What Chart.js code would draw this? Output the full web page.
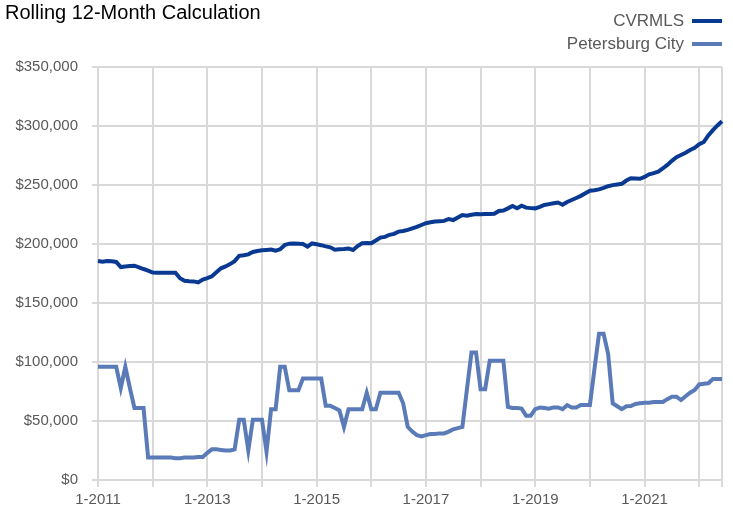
<!DOCTYPE html>
<html>
<head>
<meta charset="utf-8">
<script src="https://cdn.jsdelivr.net/npm/chart.js@4.4.1/dist/chart.umd.min.js"></script>
<style>
  body { margin: 0; background: #fff; }
  #wrap { width: 733px; height: 515px; position: relative; }
</style>
</head>
<body>
<div id="wrap"><canvas id="rolling"></canvas></div>
<script>
var FONT = '"Liberation Sans Narrow", "Arial Narrow", "Liberation Sans", sans-serif';

var chartTitle = 'Rolling 12-Month Calculation';
var seriesNames = ['CVRMLS', 'Petersburg City'];
var seriesColors = ['#0a3991', '#5a7bb8'];

// months 1-2011 .. 6-2022
var startYear = 2011;
var monthCount = 138;
var months = [];
for (var i = 0; i < monthCount; i++) {
  months.push((i % 12 + 1) + '-' + (startYear + Math.floor(i / 12)));
}

var yTicks = [0, 50000, 100000, 150000, 200000, 250000, 300000, 350000];

var cvrmls = [
  185600, 185000, 185500, 185400, 184800, 180500, 181000, 181300, 181600, 180200, 178800, 177500,
  175800, 175600, 175700, 175700, 175700, 175600, 171000, 168900, 168500, 168300, 167500, 169800,
  171000, 172600, 176000, 179400, 181000, 183000, 185500, 190000, 190500, 191200, 193200, 194000,
  194700, 195000, 195300, 194400, 195500, 199200, 200300, 200400, 200200, 200000, 197700, 200500,
  199800, 199000, 198000, 197200, 195200, 195500, 195800, 196200, 195000, 198300, 200600, 200800,
  200700, 203000, 205400, 206000, 207800, 208600, 210500, 211000, 212000, 213300, 214500, 216100,
  217600, 218400, 219000, 219300, 219600, 221200, 220300, 222500, 224600, 223900, 224800, 225400,
  225300, 225500, 225400, 225600, 228000, 228400, 230200, 232200, 230300, 232500, 230800, 230400,
  230200, 231500, 233100, 233800, 234500, 235200, 233300, 235600, 237300, 239000, 240800, 243000,
  245200, 245600, 246300, 247500, 249000, 249900, 250500, 251000, 253800, 255700, 255600, 255300,
  256800, 259000, 260000, 261300, 264000, 267000, 270500, 273500, 275400, 277400, 279600, 281500,
  284500, 286500, 292000, 296500, 300500, 304000
];

var petersburg = [
  96000, 96000, 96000, 96000, 96000, 78000, 96000, 78000, 61000, 61000, 61000, 19000,
  19000, 19000, 19000, 19000, 19000, 18500, 18500, 19000, 19000, 19000, 19500, 19500,
  23000, 26000, 26000, 25500, 25000, 25000, 26000, 51000, 51000, 25000, 51000, 51000,
  51000, 24000, 60000, 60000, 96000, 96000, 76000, 76000, 76000, 86000, 86000, 86000,
  86000, 86000, 63000, 63000, 61000, 59000, 45000, 60000, 60000, 60000, 60000, 74000,
  60000, 60000, 74000, 74000, 74000, 74000, 74000, 65000, 45000, 41000, 38000, 37000,
  38000, 39000, 39000, 39500, 39500, 41000, 43000, 44000, 45000, 77000, 108000, 108000,
  77000, 77000, 101000, 101000, 101000, 101000, 62000, 61000, 61000, 60500, 54500, 54500,
  60000, 61500, 61000, 60500, 61500, 61500, 60000, 63500, 61500, 61500, 63500, 63500,
  63500, 94000, 124000, 124000, 107000, 65000, 62500, 60000, 62500, 62700, 64400, 65000,
  65500, 65500, 66000, 66000, 66100, 68500, 70600, 70600, 67800, 71000, 74000, 76300,
  81000, 81500, 82000, 85600, 85600, 85600
];

// title and right-hand legend (line sample after the text)
var overlay = {
  id: 'overlay',
  afterDraw: function(chart) {
    var ctx = chart.ctx;
    ctx.save();
    ctx.fillStyle = '#000';
    ctx.font = '20px ' + FONT;
    ctx.textAlign = 'left';
    ctx.textBaseline = 'alphabetic';
    ctx.fillText(chartTitle, 5, 19);

    ctx.font = '17px ' + FONT;
    ctx.textAlign = 'right';
    for (var k = 0; k < seriesNames.length; k++) {
      var y = 21 + k * 23;
      ctx.fillStyle = '#595959';
      ctx.fillText(seriesNames[k], 684, y + 5);
      ctx.strokeStyle = seriesColors[k];
      ctx.lineWidth = 4;
      ctx.beginPath();
      ctx.moveTo(692, y);
      ctx.lineTo(722, y);
      ctx.stroke();
    }
    ctx.restore();
  }
};

var gridColor = '#d9d9d9';

new Chart('rolling', {
  type: 'line',
  data: {
    labels: months,
    datasets: [
      {
        label: seriesNames[0],
        data: cvrmls,
        borderColor: seriesColors[0],
        borderWidth: 4,
        pointRadius: 0,
        tension: 0
      },
      {
        label: seriesNames[1],
        data: petersburg,
        borderColor: seriesColors[1],
        borderWidth: 4,
        pointRadius: 0,
        tension: 0
      }
    ]
  },
  options: {
    responsive: true,
    maintainAspectRatio: false,
    animation: false,
    layout: { padding: { left: 0, right: 11, top: 67, bottom: 0 } },
    plugins: {
      legend: { display: false },
      tooltip: { enabled: false }
    },
    scales: {
      x: {
        afterFit: function(s) { s.height = 35; },
        grid: {
          color: function(c) {
            return (c.index % 12 === 0 || c.index === monthCount - 1) ? gridColor : 'rgba(0,0,0,0)';
          },
          lineWidth: 2,
          tickLength: 7
        },
        border: { color: gridColor, width: 2 },
        ticks: {
          autoSkip: false,
          maxRotation: 0,
          minRotation: 0,
          padding: 4,
          color: '#595959',
          font: { family: FONT, size: 15 },
          callback: function(v, idx) {
            return idx % 24 === 0 ? months[idx] : '';
          }
        }
      },
      y: {
        min: yTicks[0],
        max: yTicks[yTicks.length - 1],
        afterFit: function(s) { s.width = 98; },
        afterBuildTicks: function(s) {
          s.ticks = yTicks.map(function(v) { return { value: v }; });
        },
        grid: { color: gridColor, lineWidth: 2, tickLength: 6 },
        border: { color: gridColor, width: 2 },
        ticks: {
          padding: 14,
          color: '#595959',
          font: { family: FONT, size: 15 },
          callback: function(v) { return '$' + v.toLocaleString('en-US'); }
        }
      }
    }
  },
  plugins: [overlay]
});
</script>
</body>
</html>
